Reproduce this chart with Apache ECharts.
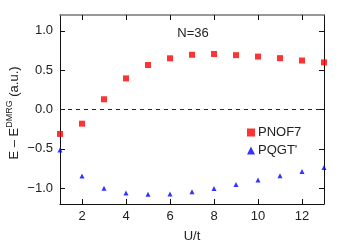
<!DOCTYPE html>
<html><head><meta charset="utf-8">
<script src="https://cdn.jsdelivr.net/npm/echarts@6/dist/echarts.min.js"></script>
<style>html,body{margin:0;padding:0;background:#fff}#c{width:347px;height:248px}</style>
</head><body><div id="c"></div>
<script>
const uValues = [1,2,3,4,5,6,7,8,9,10,11,12,13];
const pnof7 = [-0.31,-0.18,0.13,0.395,0.565,0.65,0.695,0.705,0.69,0.672,0.652,0.622,0.598];
const pqgt = [-0.515,-0.845,-1.0,-1.06,-1.075,-1.072,-1.045,-1.002,-0.952,-0.895,-0.84,-0.787,-0.738];
const xTicks = [2,4,6,8,10,12];
const yTicks = [-1.0,-0.5,0.0,0.5,1.0];

const chart = echarts.init(document.getElementById('c'));
const font = 'Liberation Sans, Arial, sans-serif';
const fmtY = v => (v < 0 ? '\u2212' : '') + Math.abs(v).toFixed(1);
const baseX = {type:'value', min:1, max:13, splitLine:{show:false}};
const baseY = {type:'value', min:-1.2, max:1.2, splitLine:{show:false}};
chart.setOption({
  animation:false,
  grid:{left:60, right:23, top:15, bottom:40},
  legend:{orient:'vertical', left:242, top:121, itemWidth:8, itemHeight:8, itemGap:5,
    textStyle:{fontFamily:font, fontSize:13, color:'#222', padding:[0,0,0,-2]},
    data:[{name:'PNOF7', icon:'rect'},{name:"PQGT'", icon:'triangle'}]},
  xAxis:[
    Object.assign({}, baseX, {position:'bottom', name:'U/t', nameLocation:'middle', nameGap:26,
      nameTextStyle:{fontFamily:font, fontSize:13, color:'#222'},
      axisLine:{onZero:false, lineStyle:{color:'#111', width:1}},
      axisTick:{inside:true, length:5, customValues:xTicks, lineStyle:{color:'#111'}},
      axisLabel:{customValues:xTicks, margin:6, fontFamily:font, fontSize:13, color:'#222'}}),
    Object.assign({}, baseX, {position:'top',
      axisLine:{onZero:false, lineStyle:{color:'#777', width:1.5}},
      axisTick:{inside:true, length:5, customValues:xTicks, lineStyle:{color:'#111'}},
      axisLabel:{show:false}})
  ],
  yAxis:[
    Object.assign({}, baseY, {position:'left',
      axisLine:{onZero:false, lineStyle:{color:'#111', width:1}},
      axisTick:{inside:true, length:5, customValues:yTicks, lineStyle:{color:'#111'}},
      axisLabel:{customValues:yTicks, margin:7, fontFamily:font, fontSize:13, color:'#222', formatter:fmtY}}),
    Object.assign({}, baseY, {position:'right',
      axisLine:{onZero:false, lineStyle:{color:'#111', width:1}},
      axisTick:{inside:true, length:5, customValues:yTicks, lineStyle:{color:'#111'}},
      axisLabel:{show:false}})
  ],
  graphic:[
    {type:'text', x:193, y:33, style:{text:'N=36', font:'13px '+font, fill:'#222', align:'center', verticalAlign:'middle'}},
    {type:'text', x:14, y:113, rotation:Math.PI/2,
     style:{text:'E \u2013 E{sup|DMRG} (a.u.)', font:'13px '+font, fill:'#222', align:'center', verticalAlign:'middle',
       rich:{sup:{fontSize:9, fontFamily:font, fill:'#222', padding:[0,0,9,0]}}}}
  ],
  series:[
    {name:'PNOF7', type:'scatter', symbol:'rect', symbolSize:6, itemStyle:{color:'#ff0000'},
     data:uValues.map((u,i)=>[u,pnof7[i]]),
     markLine:{silent:true, symbol:'none', label:{show:false},
       lineStyle:{color:'#222', type:[4,4], width:1}, data:[{yAxis:0}]}},
    {name:"PQGT'", type:'scatter', symbol:'triangle', symbolSize:5, itemStyle:{color:'#0000ff'},
     data:uValues.map((u,i)=>[u,pqgt[i]])}
  ]
});
</script></body></html>
